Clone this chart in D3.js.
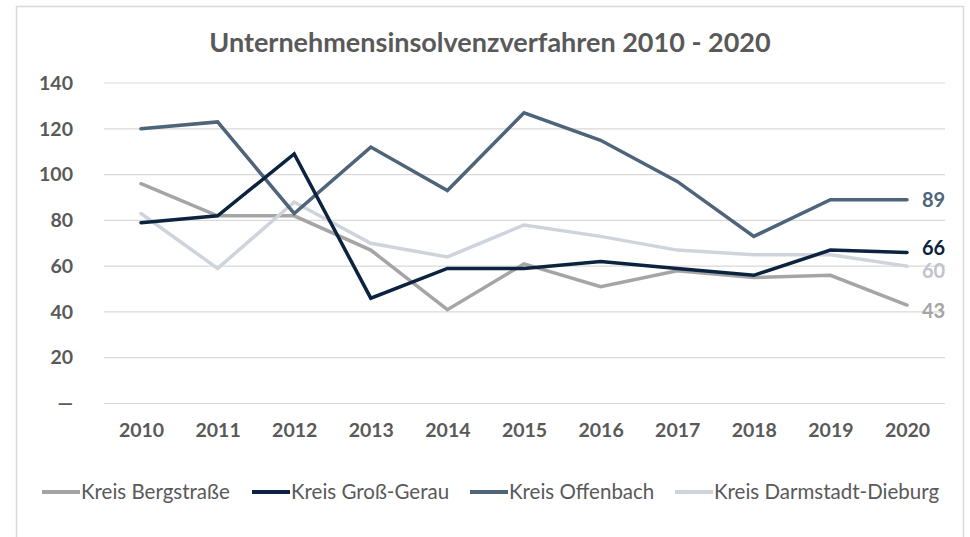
<!DOCTYPE html>
<html><head><meta charset="utf-8">
<script src="https://cdn.jsdelivr.net/npm/d3@7"></script>
<style>
html,body{margin:0;padding:0;background:#fff;}
svg{display:block;font-family:Lato,"Open Sans",sans-serif;}
</style></head>
<body>
<svg id="chart" width="970" height="537"></svg>
<script>
const years = ["2010","2011","2012","2013","2014","2015","2016","2017","2018","2019","2020"];
const bergstrasse = [96,82,82,67,41,61,51,58,55,56,43];
const grossGerau = [79,82,109,46,59,59,62,59,56,67,66];
const offenbach = [120,123,83,112,93,127,115,97,73,89,89];
const darmstadtDieburg = [83,59,88,70,64,78,73,67,65,65,60];
const seriesNames = ["Kreis Bergstraße","Kreis Groß-Gerau","Kreis Offenbach","Kreis Darmstadt-Dieburg"];
const seriesColors = ["#a5a5a5","#0c2340","#4e6479","#cfd4dc"];
const yTicks = [0,20,40,60,80,100,120,140];
const title = "Unternehmensinsolvenzverfahren 2010 - 2020";

const seriesData = [bergstrasse, grossGerau, offenbach, darmstadtDieburg];
const svg = d3.select("#chart");
svg.append("rect").attr("x",16.5).attr("y",6.5).attr("width",947).attr("height",540)
  .attr("fill","#fff").attr("stroke","#d9d9d9").attr("stroke-width",1.5);

const x = d3.scalePoint().domain(years).range([141,907]);
const y = d3.scaleLinear().domain([0,140]).range([403.5,83]);

svg.append("text").attr("x",490).attr("y",52).attr("text-anchor","middle")
  .attr("font-size",27).attr("font-weight",700).attr("fill","#595959").text(title);

// gridlines
svg.append("g").selectAll("line").data(yTicks).join("line")
  .attr("x1",104).attr("x2",945).attr("y1",d=>y(d)).attr("y2",d=>y(d))
  .attr("stroke","#d9d9d9").attr("stroke-width",1.2);

// y axis
const yAxis = d3.axisLeft(y).tickValues(yTicks).tickSize(0).tickPadding(0)
  .tickFormat(d=> d===0 ? "—" : d);
const gy = svg.append("g").attr("transform","translate(73,0)").call(yAxis);
gy.select(".domain").remove();
gy.selectAll("text").attr("font-size",19.5).attr("font-weight",700).attr("fill","#595959")
  .attr("font-family","Lato,sans-serif");

// x axis
const xAxis = d3.axisBottom(x).tickSize(0).tickPadding(0);
const gx = svg.append("g").attr("transform","translate(0,423)").call(xAxis);
gx.select(".domain").remove();
gx.selectAll("text").attr("font-size",19.5).attr("font-weight",700).attr("fill","#595959")
  .attr("font-family","Lato,sans-serif");

const line = d3.line().x((d,i)=>x(years[i])).y(d=>y(d));
const order = [0,3,2,1];
svg.append("g").selectAll("path").data(order).join("path")
  .attr("d",i=>line(seriesData[i])).attr("fill","none")
  .attr("stroke",i=>seriesColors[i]).attr("stroke-width",3.5)
  .attr("stroke-linejoin","miter").attr("stroke-linecap","round");

// end labels
const last = years.length-1;
const labelColors = ["#a5a5a5","#0c2340","#4e6479","#bfc4cc"];
const dy = [6,-4,0,5];
svg.append("g").selectAll("text").data([0,1,2,3]).join("text")
  .attr("x",922).attr("y",i=>y(seriesData[i][last])+7+dy[i])
  .attr("font-size",20).attr("font-weight",700).attr("fill",i=>labelColors[i])
  .text(i=>seriesData[i][last]);

// legend
const legX = [42,252,470,675];
const lg = svg.append("g").selectAll("g").data([0,1,2,3]).join("g")
  .attr("transform",i=>`translate(${legX[i]},492)`);
lg.append("line").attr("x1",0).attr("x2",38).attr("y1",0).attr("y2",0)
  .attr("stroke",i=>seriesColors[i]).attr("stroke-width",4);
lg.append("text").attr("x",39).attr("y",7).attr("font-size",20.5).attr("fill","#595959")
  .text(i=>seriesNames[i]);
</script>
</body></html>
